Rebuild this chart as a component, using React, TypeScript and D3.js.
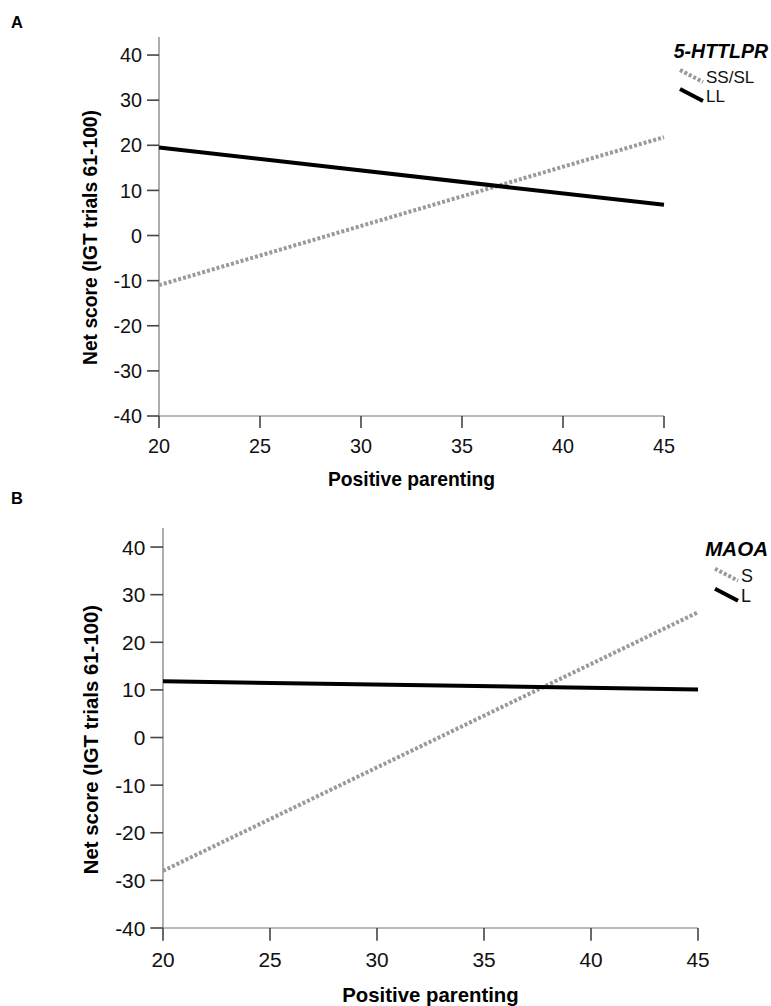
import React from 'react';
import * as d3 from 'd3';

// values: simple slopes at x = 20 and x = 45
const parenting = [20, 45];
const httlprSSSL = [-11, 21.8];
const httlprLL = [19.5, 6.8];
const maoaS = [-28, 26.3];
const maoaL = [11.8, 10.1];

const xTicks = [20, 25, 30, 35, 40, 45];
const yTicks = [-40, -30, -20, -10, 0, 10, 20, 30, 40];

const FONT = '"Liberation Sans", Arial, Helvetica, sans-serif';

type Panel = {
  letter: string;
  gene: string;
  labels: string[];
  series: number[][];
  left: number;
  right: number;
  top: number;
  bottom: number;
  s: number; // scale factor of the panel
  letterY: number;
  legendY: number;
};

const panels: Panel[] = [
  {
    letter: 'A', gene: '5-HTTLPR', labels: ['SS/SL', 'LL'],
    series: [httlprSSSL, httlprLL],
    left: 159, right: 664, top: 37, bottom: 416, s: 1, letterY: 28, legendY: 58,
  },
  {
    letter: 'B', gene: 'MAOA', labels: ['S', 'L'],
    series: [maoaS, maoaL],
    left: 163, right: 698, top: 528, bottom: 928, s: 1.055, letterY: 504, legendY: 556,
  },
];

const lineStyles = [
  { stroke: '#9a9a9a', dash: '3,2' },
  { stroke: '#000', dash: null },
];

const Chart = ({ p }: { p: Panel }) => {
  const x = d3.scaleLinear().domain([20, 45]).range([p.left, p.right]);
  const y = d3.scaleLinear().domain([-40, 44]).range([p.bottom, p.top]);
  const line = d3.line<number>().x((_, i) => x(parenting[i])).y(d => y(d));
  const fs = 19.8 * p.s;
  const titleFs = 19.3 * p.s;
  const tick = 12 * p.s;
  const midY = (y(-40) + y(40)) / 2 + 2;
  return (
    <g fontFamily={FONT}>
      <text x={11} y={p.letterY} fontSize={16.5} fontWeight="bold">{p.letter}</text>
      {/* axes */}
      <line x1={p.left} x2={p.left} y1={p.top} y2={p.bottom} stroke="#777" strokeWidth={1.2} />
      <line x1={p.left} x2={p.right} y1={p.bottom} y2={p.bottom} stroke="#777" strokeWidth={1.2} />
      {yTicks.map(t => (
        <g key={'y' + t}>
          <line x1={p.left - tick} x2={p.left} y1={y(t)} y2={y(t)} stroke="#444" strokeWidth={1.6} />
          <text x={p.left - tick - 5} y={y(t)} dy="0.36em" textAnchor="end" fontSize={fs} fill="#111">{t}</text>
        </g>
      ))}
      {xTicks.map(t => (
        <g key={'x' + t}>
          <line x1={x(t)} x2={x(t)} y1={p.bottom} y2={p.bottom + tick} stroke="#444" strokeWidth={1.6} />
          <text x={x(t)} y={p.bottom + 37 * p.s} textAnchor="middle" fontSize={fs} fill="#111">{t}</text>
        </g>
      ))}
      <text x={(p.left + p.right) / 2} y={p.bottom + 70 * p.s} textAnchor="middle" fontSize={titleFs} fontWeight="bold">
        Positive parenting
      </text>
      <text transform={`translate(${p.left - 62 * p.s},${midY}) rotate(-90)`} textAnchor="middle" fontSize={titleFs} fontWeight="bold">
        Net score (IGT trials 61-100)
      </text>
      {/* lines */}
      {p.series.map((s, i) => (
        <path key={i} d={line(s) || ''} fill="none" stroke={lineStyles[i].stroke}
          strokeWidth={4} strokeDasharray={lineStyles[i].dash || undefined} />
      ))}
      {/* legend */}
      <text x={768} y={p.legendY} textAnchor="end" fontSize={19.5 * p.s} fontWeight="bold" fontStyle="italic">{p.gene}</text>
      {p.labels.map((lab, i) => {
        const ly = p.legendY + 12 * p.s + i * 19 * p.s;
        const lx = 768 - (p.letter === 'A' ? 88 : 53);
        return (
          <g key={lab}>
            <line x1={lx} y1={ly} x2={lx + 23} y2={ly + 12} stroke={lineStyles[i].stroke}
              strokeWidth={4} strokeDasharray={lineStyles[i].dash || undefined} />
            <text x={lx + 26} y={ly + 13} fontSize={17 * p.s} fill="#111">{lab}</text>
          </g>
        );
      })}
    </g>
  );
};

export default function App() {
  return (
    <div style={{ position: 'absolute', left: 0, top: 0 }}>
      <svg width={771} height={1006} style={{ display: 'block', background: '#fff' }}>
        {panels.map(p => <Chart key={p.letter} p={p} />)}
      </svg>
    </div>
  );
}
